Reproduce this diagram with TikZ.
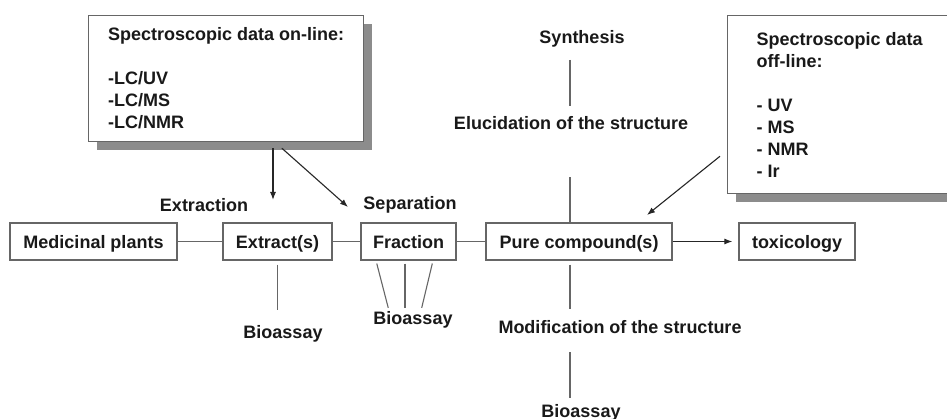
\documentclass[tikz,border=0pt]{standalone}
\usepackage{fontspec}
\setmainfont{Liberation Sans}
\usetikzlibrary{arrows.meta, shadows}

\begin{document}
\begin{tikzpicture}[x=1pt, y=-1pt,
    every node/.style={font=\fontsize{18}{22}\selectfont\bfseries, text=black!90},
    box/.style={draw=black!60, line width=1.2pt, fill=white, minimum height=37pt,
      inner sep=0pt, text height=15pt, text depth=0pt},
    infobox/.style={draw=black!60, line width=1.2pt, fill=white, anchor=north west,
      align=left, inner sep=0pt,
      drop shadow={shadow xshift=8pt, shadow yshift=-8pt, fill=black!45, opacity=1}},
    lbl/.style={anchor=base, inner sep=0pt},
    link/.style={draw=black!60, line width=1.1pt},
    arr/.style={draw=black!85, line width=1.1pt, -{Latex[length=8pt,width=6pt]}}]
  \useasboundingbox (0,0) rectangle (947,419);
  \fill[white] (0,0) rectangle (947,419);
  \clip (0,0) rectangle (947,419);

  % main chain
  \node[box, minimum width=167pt] (med) at (93.5,241.5) {Medicinal plants};
  \node[box, minimum width=109pt] (extr) at (277.5,241.5) {Extract(s)};
  \node[box, minimum width=95pt] (frac) at (408.5,241.5) {Fraction};
  \node[box, minimum width=186pt] (pure) at (579,241.5) {Pure compound(s)};
  \node[box, minimum width=116pt] (tox) at (797,241.5) {toxicology};
  \draw[link] (med) -- (extr);
  \draw[link] (extr) -- (frac);
  \draw[link] (frac) -- (pure);
  \draw[arr, shorten >=6pt] (pure) -- (tox);

  % labels
  \node[lbl] (extrLbl) at (204,212) {Extraction};
  \node[lbl] (sepLbl) at (410,210) {Separation};
  \node[lbl] (syn) at (582,44) {Synthesis};
  \node[lbl] (eluc) at (571,130) {Elucidation of the structure};
  \node[lbl] (bio1) at (283,338) {Bioassay};
  \node[lbl] (bio2) at (413,324) {Bioassay};
  \node[lbl] (modif) at (620,334) {Modification of the structure};
  \node[lbl] (bio3) at (581,417) {Bioassay};

  % vertical axis through pure compound(s)
  \coordinate (ax) at (570,0);
  \draw[link, shorten <=12pt, shorten >=11pt] (syn.south -| ax) -- (eluc.north -| ax);
  \draw[link, shorten <=47pt] (eluc.south -| ax) -- (pure.north -| ax);
  \draw[link, shorten <=4pt, shorten >=12pt] (pure.south -| ax) -- (modif.north -| ax);
  \draw[link, shorten <=18pt, shorten >=6pt] (modif.south -| ax) -- (bio3.north -| ax);

  % bioassays on extract and fractions
  \draw[link, shorten <=4pt, shorten >=15pt] (extr.south) -- (bio1.north -| extr.south);
  \draw[link, shorten <=3pt, shorten >=3pt] ([xshift=-32.5pt]frac.south) -- ([xshift=-24pt]bio2.north);
  \draw[link, shorten <=3pt, shorten >=3pt] ([xshift=-3.5pt]frac.south) -- ([xshift=-8pt]bio2.north);
  \draw[link, shorten <=3pt, shorten >=3pt] ([xshift=24.5pt]frac.south) -- ([xshift=8pt]bio2.north);

  % on-line box
  \node[infobox, minimum width=275pt, minimum height=126pt] (online) at (88,15)
    {Spectroscopic data on-line:\\[22pt]-LC/UV\\-LC/MS\\-LC/NMR};
  \coordinate (extrIn) at (273,200);
  \coordinate (sepIn) at (348,207);
  \draw[arr, shorten <=6pt] (online.south -| extrIn) -- (extrIn);
  \draw[arr, shorten <=9pt] ([xshift=49pt]online.south) -- (sepIn);

  % off-line box
  \node[infobox, minimum width=224pt, minimum height=178pt] (offline) at (727,15)
    {Spectroscopic data\\off-line:\\[22pt]- UV\\- MS\\- NMR\\- Ir};
  \coordinate (pureIn) at (647,215);
  \draw[arr, shorten <=9pt] ([yshift=-46pt]offline.west) -- (pureIn);
\end{tikzpicture}
\end{document}
